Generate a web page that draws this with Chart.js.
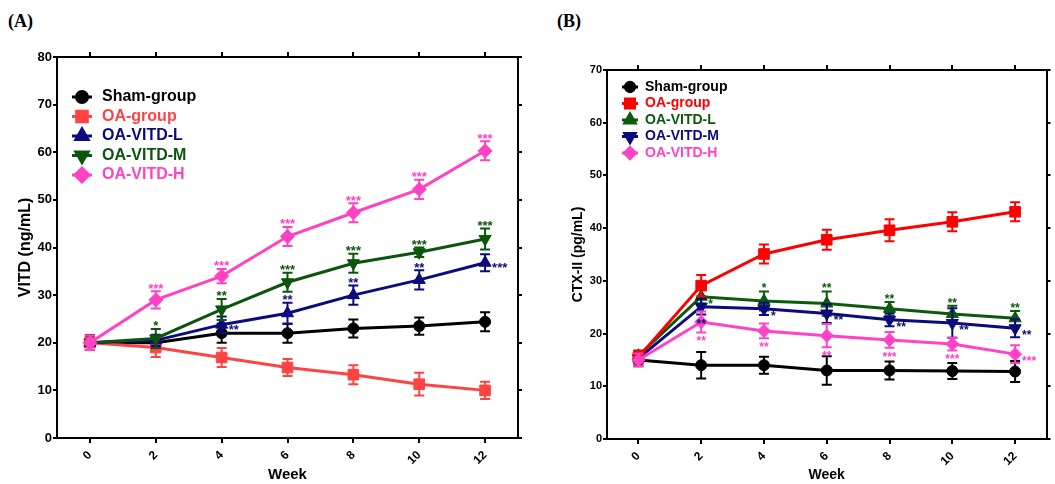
<!DOCTYPE html>
<html>
<head>
<meta charset="utf-8">
<script src="https://cdn.jsdelivr.net/npm/chart.js@4.4.1/dist/chart.umd.min.js"></script>
<style>
  body { margin: 0; background: #fff; width: 1055px; height: 484px; position: relative; overflow: hidden; }
  canvas { position: absolute; top: 0; }
  #chartA { left: 0; }
  #chartB { left: 527px; }
  .tag { position: absolute; top: 11px; font: bold 18px "Liberation Serif", "Times New Roman", serif; color: #000; }
</style>
</head>
<body>
<div class="tag" style="left:8px">(A)</div>
<div class="tag" style="left:557px">(B)</div>
<canvas id="chartA" width="527" height="484"></canvas>
<canvas id="chartB" width="528" height="484"></canvas>
<script>
const weeks = ['0', '2', '4', '6', '8', '10', '12'];
const groupNames = ['Sham-group', 'OA-group', 'OA-VITD-L', 'OA-VITD-M', 'OA-VITD-H'];

// (A) serum VITD, ng/mL (mean and SD)
const vitdSham = [20, 20, 22, 22, 23, 23.5, 24.4];
const vitdOA = [20, 19, 16.9, 14.8, 13.3, 11.3, 10];
const vitdL = [20, 20.5, 23.8, 26.2, 30, 33.2, 36.8];
const vitdM = [20, 20.9, 27, 32.7, 36.7, 39, 41.8];
const vitdH = [20, 29, 34, 42.3, 47.3, 52.2, 60.3];
const vitdShamSd = [1.5, 1.2, 2, 2, 1.9, 1.8, 2];
const vitdOASd = [1.5, 2, 2, 1.8, 2, 2.4, 1.8];
const vitdLSd = [1.5, 1.2, 1.7, 2.2, 2, 2, 1.8];
const vitdMSd = [1.5, 2, 2.2, 2, 2, 1, 2.2];
const vitdHSd = [1.5, 1.8, 1.5, 2, 2, 2, 2];
const vitdLSig = ['', '', '**', '**', '**', '**', '***'];
const vitdMSig = ['', '*', '**', '***', '***', '***', '***'];
const vitdHSig = ['', '***', '***', '***', '***', '***', '***'];

// (B) serum CTX-II, pg/mL (mean and SD)
const ctxSham = [15, 14, 14, 13, 13, 12.9, 12.8];
const ctxOA = [15.5, 29.1, 35.1, 37.8, 39.6, 41.2, 43.1];
const ctxL = [15.8, 27, 26.2, 25.7, 24.7, 23.7, 22.9];
const ctxM = [15.3, 25.1, 24.7, 23.8, 22.6, 22, 21];
const ctxH = [15, 22.2, 20.5, 19.6, 18.8, 18, 16.1];
const ctxShamSd = [1.2, 2.5, 1.6, 2.7, 1.7, 1.5, 2];
const ctxOASd = [1.2, 2, 1.8, 1.9, 2.1, 1.8, 1.8];
const ctxLSd = [1, 1.3, 1.8, 2.3, 1.3, 1.6, 1.4];
const ctxMSd = [1, 1.5, 1.2, 1.8, 1.2, 2.8, 1.7];
const ctxHSd = [1.2, 2, 1.4, 2.2, 1.5, 1.2, 1.7];
const ctxLSig = ['', '*', '*', '**', '**', '**', '**'];
const ctxMSig = ['', '**', '*', '**', '**', '**', '**'];
const ctxHSig = ['', '**', '**', '**', '***', '***', '***'];

Chart.defaults.font.family = '"Liberation Sans", Arial, sans-serif';
Chart.defaults.font.weight = 'bold';
Chart.defaults.color = '#000';

// error bars drawn under each dataset's line and markers
const errorBars = {
  id: 'errorBars',
  beforeDatasetDraw(chart, args) {
    const ds = chart.data.datasets[args.index];
    const y = chart.scales.y;
    const ctx = chart.ctx;
    ctx.save();
    ctx.strokeStyle = ds.borderColor;
    ctx.lineWidth = 2;
    args.meta.data.forEach((pt, i) => {
      const top = y.getPixelForValue(ds.data[i] + ds.sd[i]);
      const bot = y.getPixelForValue(ds.data[i] - ds.sd[i]);
      ctx.beginPath();
      ctx.moveTo(pt.x, top); ctx.lineTo(pt.x, bot);
      ctx.moveTo(pt.x - 5, top); ctx.lineTo(pt.x + 5, top);
      ctx.moveTo(pt.x - 5, bot); ctx.lineTo(pt.x + 5, bot);
      ctx.stroke();
    });
    ctx.restore();
  }
};

// significance asterisks next to the points
const sigMarks = {
  id: 'sigMarks',
  afterDatasetsDraw(chart, args, opts) {
    const ctx = chart.ctx, y = chart.scales.y;
    ctx.save();
    ctx.font = 'bold ' + opts.size + 'px "Liberation Sans", Arial, sans-serif';
    ctx.textBaseline = 'middle';
    chart.data.datasets.forEach((ds, di) => {
      if (!ds.sig) return;
      const meta = chart.getDatasetMeta(di);
      ctx.fillStyle = ds.borderColor;
      meta.data.forEach((pt, i) => {
        const s = ds.sig[i];
        if (!s) return;
        const place = ds.sigPlace[i];
        // asterisk glyph sits high in the em box, shift baseline down
        const shift = opts.size * 0.3;
        if (place === 'up') {
          ctx.textAlign = 'center';
          ctx.fillText(s, pt.x, y.getPixelForValue(ds.data[i] + ds.sd[i]) - 6 + shift);
        } else if (place === 'below') {
          ctx.textAlign = 'center';
          ctx.fillText(s, pt.x, y.getPixelForValue(ds.data[i] - ds.sd[i]) + 6 + shift);
        } else {
          ctx.textAlign = 'left';
          ctx.fillText(s, pt.x + 7, pt.y + opts.rightDy + shift);
        }
      });
    });
    ctx.restore();
  }
};

// legend in the upper left of the plot
const boxLegend = {
  id: 'boxLegend',
  afterDraw(chart, args, opts) {
    const ctx = chart.ctx;
    ctx.save();
    ctx.font = 'bold ' + opts.size + 'px "Liberation Sans", Arial, sans-serif';
    ctx.textBaseline = 'middle';
    ctx.textAlign = 'left';
    chart.data.datasets.forEach((ds, i) => {
      const yy = opts.y + i * opts.step;
      ctx.strokeStyle = ds.borderColor;
      ctx.fillStyle = ds.borderColor;
      ctx.lineWidth = 3;
      ctx.beginPath();
      ctx.moveTo(opts.x - opts.half, yy);
      ctx.lineTo(opts.x + opts.half, yy);
      ctx.stroke();
      Chart.helpers.drawPoint(ctx, {
        pointStyle: ds.pointStyle, rotation: ds.pointRotation || 0,
        radius: ds.pointRadius * opts.markScale, borderWidth: 1
      }, opts.x, yy);
      ctx.fillText(ds.label, opts.textX, yy);
    });
    ctx.restore();
  }
};

function series(label, data, sd, color, style, radius, extra) {
  return Object.assign({
    label: label,
    data: data,
    sd: sd,
    borderColor: color,
    backgroundColor: color,
    pointBackgroundColor: color,
    pointBorderColor: color,
    borderWidth: 3,
    pointStyle: style,
    pointRadius: radius,
    pointBorderWidth: 1,
    tension: 0
  }, extra || {});
}

function frameScales(yMax, yTitle, sizes) {
  const fixed = (dim, v) => (s) => { s[dim] = v; };
  return {
    x: {
      type: 'category', position: 'bottom', offset: true,
      grid: { offset: false, drawOnChartArea: false, tickLength: 5, color: '#000', lineWidth: 2 },
      border: { color: '#000', width: 2 },
      ticks: { minRotation: 45, maxRotation: 45, padding: 5, font: { size: sizes.xTick } },
      title: { display: true, text: 'Week', padding: { top: sizes.weekPad, bottom: 0 }, font: { size: sizes.week } },
      afterFit: fixed('height', sizes.bottom)
    },
    xTop: {
      type: 'category', position: 'top', offset: true, labels: weeks,
      grid: { offset: false, drawOnChartArea: false, tickLength: 5, color: '#000', lineWidth: 2 },
      border: { color: '#000', width: 2 },
      ticks: { display: false },
      afterFit: fixed('height', sizes.top)
    },
    y: {
      min: 0, max: yMax,
      grid: { drawOnChartArea: false, tickLength: 4, color: '#000', lineWidth: 2 },
      border: { color: '#000', width: 2 },
      ticks: { stepSize: 10, padding: 1, font: { size: sizes.yTick } },
      title: { display: true, text: yTitle, padding: { top: sizes.titlePad, bottom: 0 }, font: { size: sizes.yTitle } },
      afterFit: fixed('width', sizes.left)
    },
    yRight: {
      position: 'right', min: 0, max: yMax,
      grid: { drawOnChartArea: false, tickLength: 4, color: '#000', lineWidth: 2 },
      border: { color: '#000', width: 2 },
      ticks: { display: false, stepSize: 10 },
      afterFit: fixed('width', sizes.right)
    }
  };
}

// panel A
new Chart(document.getElementById('chartA'), {
  type: 'line',
  data: {
    labels: weeks,
    datasets: [
      series(groupNames[0], vitdSham, vitdShamSd, '#000000', 'circle', 5.5, { order: 5 }),
      series(groupNames[1], vitdOA, vitdOASd, '#ff4343', 'rect', 7.5, { order: 4 }),
      series(groupNames[2], vitdL, vitdLSd, '#0b0b7d', 'triangle', 7, {
        order: 3, sig: vitdLSig, sigPlace: ['', '', 'right', 'up', 'up', 'up', 'right'] }),
      series(groupNames[3], vitdM, vitdMSd, '#0c550c', 'triangle', 7, {
        order: 2, pointRotation: 180, sig: vitdMSig, sigPlace: ['', 'up', 'up', 'up', 'up', 'up', 'up'] }),
      series(groupNames[4], vitdH, vitdHSd, '#ff42c4', 'rectRot', 7, {
        order: 1, sig: vitdHSig, sigPlace: ['', 'up', 'up', 'up', 'up', 'up', 'up'] })
    ]
  },
  options: {
    responsive: false, animation: false, devicePixelRatio: 1,
    layout: { padding: 0 },
    elements: { point: { hoverRadius: 0 } },
    scales: frameScales(80, 'VITD (ng/mL)', {
      left: 57, right: 9, top: 57, bottom: 46,
      xTick: 12, yTick: 13, week: 15, weekPad: 0, yTitle: 16, titlePad: 16
    }),
    plugins: {
      legend: { display: false }, tooltip: { enabled: false },
      sigMarks: { size: 13, rightDy: 2 },
      boxLegend: { x: 82, y: 97, step: 19.5, half: 10, textX: 102, size: 16, markScale: 1 }
    }
  },
  plugins: [errorBars, sigMarks, boxLegend]
});

// panel B
new Chart(document.getElementById('chartB'), {
  type: 'line',
  data: {
    labels: weeks,
    datasets: [
      series(groupNames[0], ctxSham, ctxShamSd, '#000000', 'circle', 5.5, { order: 5 }),
      series(groupNames[1], ctxOA, ctxOASd, '#ff0000', 'rect', 7.5, { order: 2 }),
      series(groupNames[2], ctxL, ctxLSd, '#0c5a0c', 'triangle', 7, {
        order: 4, sig: ctxLSig, sigPlace: ['', 'right', 'up', 'up', 'up', 'up', 'up'] }),
      series(groupNames[3], ctxM, ctxMSd, '#0b0b7d', 'triangle', 7, {
        order: 3, pointRotation: 180, sig: ctxMSig, sigPlace: ['', 'below', 'right', 'right', 'right', 'right', 'right'] }),
      series(groupNames[4], ctxH, ctxHSd, '#ff42c8', 'rectRot', 6.5, {
        order: 1, sig: ctxHSig, sigPlace: ['', 'below', 'below', 'below', 'below', 'below', 'right'] })
    ]
  },
  options: {
    responsive: false, animation: false, devicePixelRatio: 1,
    layout: { padding: 0 },
    elements: { point: { hoverRadius: 0 } },
    scales: frameScales(70, 'CTX-II (pg/mL)', {
      left: 80, right: 2, top: 70, bottom: 45,
      xTick: 12, yTick: 11, week: 14, weekPad: 3, yTitle: 14, titlePad: 43
    }),
    plugins: {
      legend: { display: false }, tooltip: { enabled: false },
      sigMarks: { size: 12, rightDy: 4 },
      boxLegend: { x: 103, y: 87, step: 16.5, half: 8, textX: 118, size: 14, markScale: 0.85 }
    }
  },
  plugins: [errorBars, sigMarks, boxLegend]
});
</script>
</body>
</html>
